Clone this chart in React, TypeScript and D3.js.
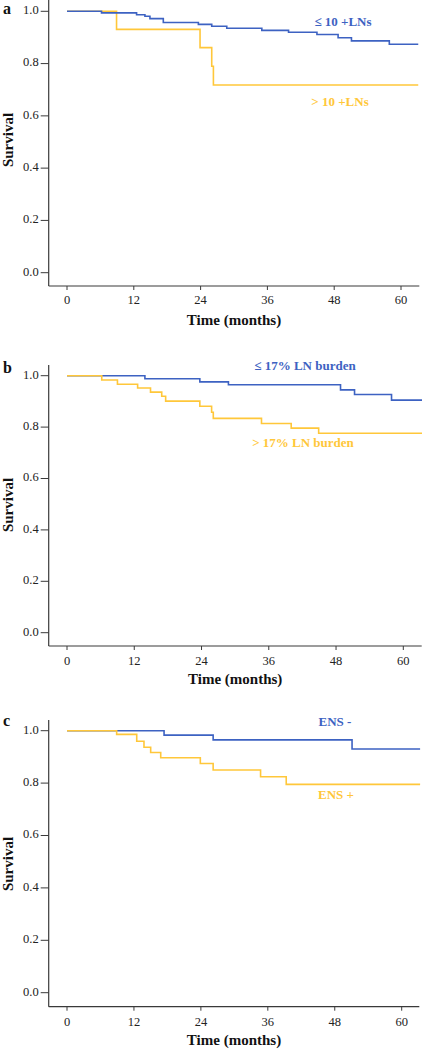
import React from "react";
import * as d3 from "d3";

// ---------- DATA ----------
const xTicks = [0, 12, 24, 36, 48, 60];
const yTicks = [0.0, 0.2, 0.4, 0.6, 0.8, 1.0];

// Panel a
const aLowTimes = [0, 6.2, 12.5, 14.0, 14.9, 17.3, 23.6, 26.0, 28.7, 35.0, 39.8, 44.9, 48.7, 51.1, 57.9, 63.1];
const aLowSurv = [1.0, 0.994, 0.987, 0.981, 0.972, 0.957, 0.95, 0.943, 0.935, 0.927, 0.92, 0.911, 0.899, 0.887, 0.874, 0.874];
const aHighTimes = [0, 8.9, 23.9, 26.0, 26.3, 63.1];
const aHighSurv = [1.0, 0.931, 0.861, 0.79, 0.718, 0.718];

// Panel b
const bLowTimes = [0, 13.9, 23.7, 28.8, 48.8, 51.3, 57.9, 63.4];
const bLowSurv = [1.0, 0.988, 0.976, 0.965, 0.945, 0.927, 0.905, 0.905];
const bHighTimes = [0, 6.2, 9.0, 12.6, 14.9, 16.9, 17.6, 23.7, 25.8, 26.1, 34.7, 40.0, 44.9, 63.4];
const bHighSurv = [1.0, 0.983, 0.967, 0.952, 0.936, 0.92, 0.901, 0.881, 0.858, 0.834, 0.814, 0.796, 0.776, 0.776];

// Panel c
const cNegTimes = [0, 17.4, 26.2, 51.1, 63.3];
const cNegSurv = [1.0, 0.983, 0.965, 0.93, 0.93];
const cPosTimes = [0, 8.9, 12.5, 13.8, 15.0, 16.8, 23.9, 26.2, 34.7, 39.3, 63.3];
const cPosSurv = [1.0, 0.986, 0.96, 0.937, 0.917, 0.897, 0.875, 0.85, 0.824, 0.795, 0.795];

const aLabels = ["\u2264 10 +LNs", "> 10 +LNs"];
const bLabels = ["\u2264 17% LN burden", "> 17% LN burden"];
const cLabels = ["ENS -", "ENS +"];

const BLUE = "#3D62C2";
const YELLOW = "#FFC73A";
const AXIS = "#3a3a3a";
const FONT = "'Liberation Serif', 'Times New Roman', serif";

type Series = { times: number[]; surv: number[]; color: string };

type PanelProps = {
  letter: string;
  letterY: number;
  x0: number;
  x60: number;
  yTop1: number; // pixel of survival 1.0
  yBot0: number; // pixel of survival 0.0
  axisY: number;
  axisRight: number;
  axisTop: number;
  tickLabelY: number;
  titleY: number;
  survY: number;
  series: Series[];
  labels: { text: string; x: number; y: number; color: string }[];
};

const AXIS_LEFT = 48.7;

function Panel(p: PanelProps) {
  const x = d3.scaleLinear().domain([0, 60]).range([p.x0, p.x60]);
  const y = d3.scaleLinear().domain([0, 1]).range([p.yBot0, p.yTop1]);
  const line = d3
    .line<[number, number]>()
    .x((d) => x(d[0]))
    .y((d) => y(d[1]))
    .curve(d3.curveStepAfter);
  return (
    <g>
      <text x={3} y={p.letterY} dominantBaseline="middle" fontFamily={FONT} fontWeight="bold" fontSize={16} fill="#111">
        {p.letter}
      </text>
      {/* axes */}
      <line x1={AXIS_LEFT} x2={AXIS_LEFT} y1={p.axisTop} y2={p.axisY} stroke={AXIS} strokeWidth={1.2} />
      <line x1={AXIS_LEFT} x2={p.axisRight} y1={p.axisY} y2={p.axisY} stroke={AXIS} strokeWidth={1.2} />
      {yTicks.map((t) => (
        <g key={"y" + t}>
          <line x1={AXIS_LEFT - 8} x2={AXIS_LEFT} y1={y(t)} y2={y(t)} stroke={AXIS} strokeWidth={1} />
          <text x={AXIS_LEFT - 10} y={y(t)} dominantBaseline="middle" textAnchor="end" fontFamily={FONT} fontSize={12.5} fill="#222">
            {t.toFixed(1)}
          </text>
        </g>
      ))}
      {xTicks.map((t) => (
        <g key={"x" + t}>
          <line x1={x(t)} x2={x(t)} y1={p.axisY} y2={p.axisY + 4} stroke={AXIS} strokeWidth={1} />
          <text x={x(t)} y={p.tickLabelY} dominantBaseline="middle" textAnchor="middle" fontFamily={FONT} fontSize={12.5} fill="#222">
            {t}
          </text>
        </g>
      ))}
      <text x={(AXIS_LEFT + p.axisRight) / 2} y={p.titleY} dominantBaseline="middle" textAnchor="middle" fontFamily={FONT} fontWeight="bold" fontSize={15} fill="#111">
        Time (months)
      </text>
      <text
        transform={`translate(${10},${p.survY}) rotate(-90)`}
        dominantBaseline="middle"
        textAnchor="middle"
        fontFamily={FONT}
        fontWeight="bold"
        fontSize={15}
        fill="#111"
      >
        Survival
      </text>
      {p.series.map((s, i) => (
        <path
          key={i}
          d={line(s.times.map((t, j) => [t, s.surv[j]] as [number, number])) || ""}
          fill="none"
          stroke={s.color}
          strokeWidth={1.6}
        />
      ))}
      {p.labels.map((l, i) => (
        <text key={i} x={l.x} y={l.y} dominantBaseline="middle" textAnchor="middle" fontFamily={FONT} fontWeight="bold" fontSize={13} fill={l.color}>
          {l.text}
        </text>
      ))}
    </g>
  );
}

export default function App() {
  return (
    <svg width={422} height={1050} style={{ position: "absolute", left: 0, top: 0, background: "#fff" }}>
      <rect width={422} height={1050} fill="#fff" />
      <Panel
        letter="a"
        letterY={10}
        x0={67}
        x60={401}
        yTop1={11.3}
        yBot0={272.7}
        axisY={286}
        axisRight={419.3}
        axisTop={0}
        tickLabelY={301}
        titleY={321.7}
        survY={140}
        series={[
          { times: aHighTimes, surv: aHighSurv, color: YELLOW },
          { times: aLowTimes, surv: aLowSurv, color: BLUE },
        ]}
        labels={[
          { text: aLabels[0], x: 343, y: 22.7, color: BLUE },
          { text: aLabels[1], x: 340, y: 102.7, color: YELLOW },
        ]}
      />
      <Panel
        letter="b"
        letterY={369}
        x0={67}
        x60={403.3}
        yTop1={375.7}
        yBot0={632.7}
        axisY={646}
        axisRight={421.7}
        axisTop={365}
        tickLabelY={662}
        titleY={680.7}
        survY={505}
        series={[
          { times: bLowTimes, surv: bLowSurv, color: BLUE },
          { times: bHighTimes, surv: bHighSurv, color: YELLOW },
        ]}
        labels={[
          { text: bLabels[0], x: 305, y: 367, color: BLUE },
          { text: bLabels[1], x: 303, y: 444, color: YELLOW },
        ]}
      />
      <Panel
        letter="c"
        letterY={722.7}
        x0={67}
        x60={401.7}
        yTop1={730.7}
        yBot0={992.7}
        axisY={1006.7}
        axisRight={419.3}
        axisTop={720}
        tickLabelY={1023}
        titleY={1042}
        survY={864}
        series={[
          { times: cNegTimes, surv: cNegSurv, color: BLUE },
          { times: cPosTimes, surv: cPosSurv, color: YELLOW },
        ]}
        labels={[
          { text: cLabels[0], x: 335, y: 722.7, color: BLUE },
          { text: cLabels[1], x: 336, y: 796, color: YELLOW },
        ]}
      />
    </svg>
  );
}
